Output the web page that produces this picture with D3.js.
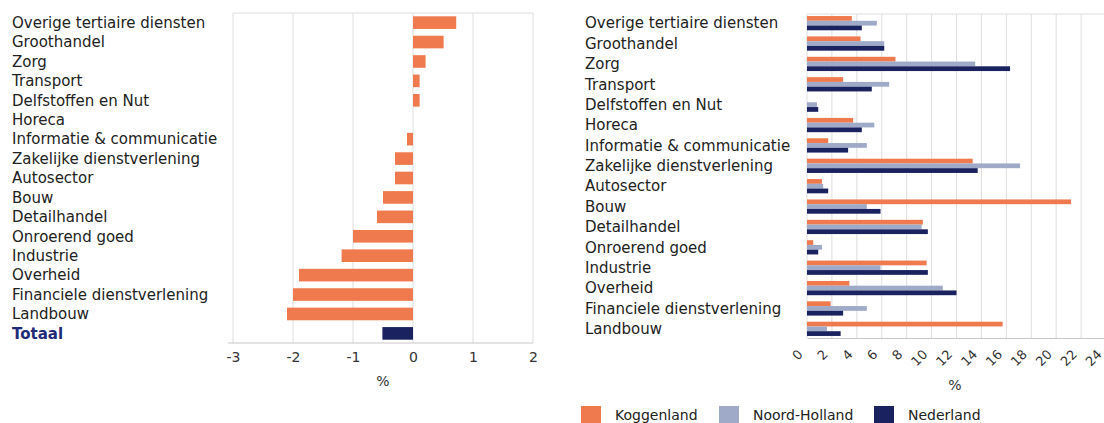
<!DOCTYPE html>
<html>
<head>
<meta charset="utf-8">
<script src="https://cdn.jsdelivr.net/npm/d3@7"></script>
<style>
  body { margin: 0; background: #fff; }
  svg text { font-family: "DejaVu Sans", Verdana, sans-serif; }
</style>
</head>
<body>
<div id="chart"></div>
<script>
// Left chart: groei per sector (%)
const leftCategories = [
    "Overige tertiaire diensten", "Groothandel", "Zorg", "Transport", "Delfstoffen en Nut",
    "Horeca", "Informatie & communicatie", "Zakelijke dienstverlening", "Autosector", "Bouw",
    "Detailhandel", "Onroerend goed", "Industrie", "Overheid", "Financiele dienstverlening",
    "Landbouw", "Totaal"
];
const leftValues = [0.72, 0.51, 0.21, 0.11, 0.11, 0, -0.1, -0.3, -0.3, -0.5,
    -0.6, -1.0, -1.19, -1.9, -2.0, -2.1, -0.51];
const leftTicks = [-3, -2, -1, 0, 1, 2];

// Right chart: aandeel werkgelegenheid per sector (%)
const rightCategories = [
    "Overige tertiaire diensten", "Groothandel", "Zorg", "Transport", "Delfstoffen en Nut",
    "Horeca", "Informatie & communicatie", "Zakelijke dienstverlening", "Autosector", "Bouw",
    "Detailhandel", "Onroerend goed", "Industrie", "Overheid", "Financiele dienstverlening",
    "Landbouw"
];
const seriesNames = ["Koggenland", "Noord-Holland", "Nederland"];
const koggenland   = [3.6, 4.3, 7.1, 2.9, 0, 3.7, 1.7, 13.3, 1.2, 21.2, 9.3, 0.5, 9.6, 3.4, 1.9, 15.7];
const noordHolland = [5.6, 6.2, 13.5, 6.6, 0.8, 5.4, 4.8, 17.1, 1.3, 4.8, 9.2, 1.2, 5.9, 10.9, 4.8, 1.6];
const nederland    = [4.4, 6.2, 16.3, 5.2, 0.9, 4.4, 3.3, 13.7, 1.7, 5.9, 9.7, 0.9, 9.7, 12.0, 2.9, 2.7];
const rightTicks = d3.range(0, 25, 2);

const colors = ["#ef7a4e", "#9eaac8", "#1b2260"];
const gridColor = "#dedede";
const labelSize = "15px";

const svg = d3.select("#chart").append("svg")
    .attr("width", 1104)
    .attr("height", 423);

// ---------- left chart ----------
const lx = d3.scaleLinear().domain([-3, 2]).range([233, 533]);
const ly = d3.scaleBand().domain(leftCategories).range([13, 343]).paddingInner(0.35).paddingOuter(0.17);

const left = svg.append("g");

left.selectAll(".lgrid")
    .data(leftTicks)
    .enter().append("line")
    .attr("x1", d => lx(d)).attr("x2", d => lx(d))
    .attr("y1", 13).attr("y2", 343)
    .attr("stroke", gridColor);

left.append("line")
    .attr("x1", lx(-3)).attr("x2", lx(2))
    .attr("y1", 13).attr("y2", 13)
    .attr("stroke", gridColor);

left.selectAll(".lbar")
    .data(leftCategories)
    .enter().append("rect")
    .attr("x", (d, i) => lx(Math.min(0, leftValues[i])))
    .attr("width", (d, i) => Math.abs(lx(leftValues[i]) - lx(0)))
    .attr("y", d => ly(d))
    .attr("height", ly.bandwidth())
    .attr("fill", d => d === "Totaal" ? colors[2] : colors[0]);

left.selectAll(".llabel")
    .data(leftCategories)
    .enter().append("text")
    .attr("x", 12)
    .attr("y", d => ly(d) + ly.bandwidth() / 2)
    .attr("dy", "0.35em")
    .style("font-size", labelSize)
    .style("font-weight", d => d === "Totaal" ? "bold" : "normal")
    .attr("fill", d => d === "Totaal" ? "#1f2a78" : "#222")
    .text(d => d);

const lAxis = left.append("g")
    .attr("transform", "translate(0,343)")
    .call(d3.axisBottom(lx).tickValues(leftTicks).tickSize(0).tickPadding(9).tickFormat(d => String(d)));
lAxis.select(".domain").attr("stroke", "#c8c8c8").attr("d", `M${lx(-3) - 5},0H${lx(2)}`);
lAxis.selectAll("text").style("font-size", "14px").attr("fill", "#333")
    .style("font-family", "DejaVu Sans, sans-serif");

left.append("text")
    .attr("x", (lx(-3) + lx(2)) / 2)
    .attr("y", 386)
    .attr("text-anchor", "middle")
    .style("font-size", "14px")
    .attr("fill", "#333")
    .text("%");

// ---------- right chart ----------
const rx = d3.scaleLinear().domain([0, 24]).range([807, 1106]);
const ry = d3.scaleBand().domain(rightCategories).range([14, 338]).paddingInner(0.3).paddingOuter(0.1);
const sub = d3.scaleBand().domain(seriesNames).range([0, ry.bandwidth()]);

const rightData = [koggenland, noordHolland, nederland];
const right = svg.append("g");

right.selectAll(".rgrid")
    .data(rightTicks)
    .enter().append("line")
    .attr("x1", d => rx(d)).attr("x2", d => rx(d))
    .attr("y1", 14).attr("y2", 338)
    .attr("stroke", gridColor);

right.append("line")
    .attr("x1", rx(0)).attr("x2", rx(24))
    .attr("y1", 14).attr("y2", 14)
    .attr("stroke", gridColor);

const groups = right.selectAll(".rgroup")
    .data(rightCategories)
    .enter().append("g")
    .attr("transform", d => `translate(0,${ry(d)})`);

groups.selectAll("rect")
    .data((d, i) => seriesNames.map((s, j) => ({ s, v: rightData[j][i], j })))
    .enter().append("rect")
    .attr("x", rx(0))
    .attr("y", d => sub(d.s))
    .attr("width", d => rx(d.v) - rx(0))
    .attr("height", sub.bandwidth())
    .attr("fill", d => colors[d.j]);

right.selectAll(".rlabel")
    .data(rightCategories)
    .enter().append("text")
    .attr("x", 585)
    .attr("y", d => ry(d) + ry.bandwidth() / 2)
    .attr("dy", "0.35em")
    .style("font-size", labelSize)
    .attr("fill", "#222")
    .text(d => d);

const rAxis = right.append("g")
    .attr("transform", "translate(0,338)")
    .call(d3.axisBottom(rx).tickValues(rightTicks).tickSize(0));
rAxis.select(".domain").attr("stroke", "#c8c8c8");
rAxis.selectAll("text")
    .style("font-size", "13px")
    .style("font-family", "DejaVu Sans, sans-serif")
    .attr("fill", "#333")
    .attr("text-anchor", "end")
    .attr("x", 0).attr("y", 0)
    .attr("dy", "0.35em")
    .attr("transform", "translate(-7,14) rotate(-45)");

right.append("text")
    .attr("x", 955)
    .attr("y", 390)
    .attr("text-anchor", "middle")
    .style("font-size", "14px")
    .attr("fill", "#333")
    .text("%");

// legend
const legendX = [581, 719, 874];
const legend = svg.selectAll(".legend")
    .data(seriesNames)
    .enter().append("g")
    .attr("transform", (d, i) => `translate(${legendX[i]},406)`);

legend.append("rect")
    .attr("width", 20).attr("height", 19)
    .attr("fill", (d, i) => colors[i]);

legend.append("text")
    .attr("x", 34)
    .attr("y", 14)
    .style("font-size", "14px")
    .attr("fill", "#222")
    .text(d => d);
</script>
</body>
</html>
